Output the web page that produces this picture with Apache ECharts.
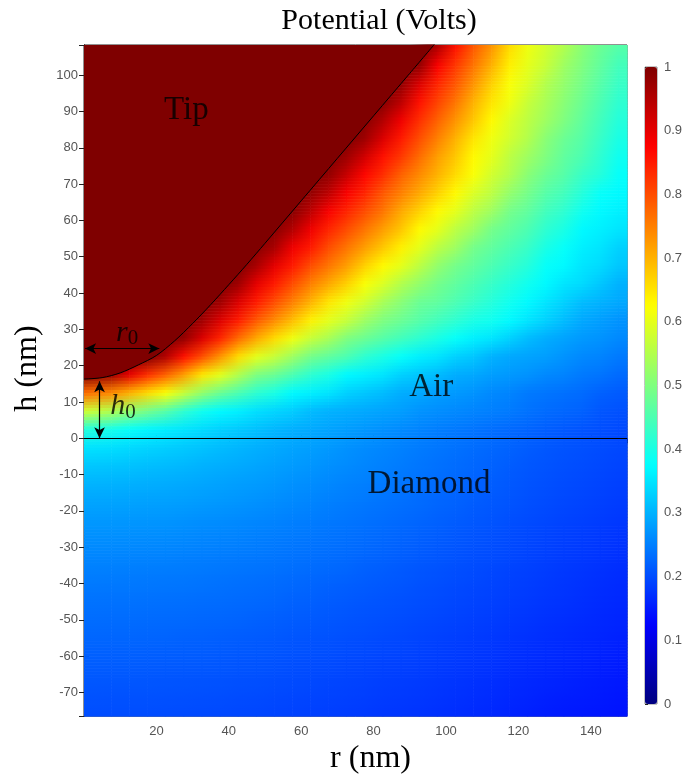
<!DOCTYPE html>
<html>
<head>
<meta charset="utf-8">
<script src="https://cdn.jsdelivr.net/npm/echarts@6/dist/echarts.min.js"></script>
<style>
  html, body { margin: 0; padding: 0; background: #ffffff; }
  #chart { width: 691px; height: 780px; }
</style>
</head>
<body>
<div id="chart"></div>
<script>
// Radial sample positions (nm)
const rCenters = [2.5, 7.5, 12.5, 17.5, 22.5, 27.5, 32.5, 37.5, 42.5, 47.5,
                  52.5, 57.5, 62.5, 67.5, 72.5, 77.5, 82.5, 87.5, 92.5, 97.5,
                  102.5, 107.5, 112.5, 117.5, 122.5, 127.5, 132.5, 137.5, 142.5, 147.5];

// Sample heights in the air gap (nm), top to bottom
const airHeights = [107.5, 102.5, 97.5, 92.5, 87.5, 82.5, 77.5, 72.5, 67.5, 62.5, 57.5,
                    52.5, 47.5, 42.5, 37.5, 32.5, 27.5, 22.5, 17.5, 12.5, 7.5, 2.5];

// Potential (V) in the air gap, one row per height, r increasing
const airPotential = [
  [1,1,1,1,1,1,1,1,1,1,1,1,1,1,1,1,1,1,1,0.96,0.86,0.79,0.73,0.66,0.61,0.58,0.55,0.51,0.48,0.46],
  [1,1,1,1,1,1,1,1,1,1,1,1,1,1,1,1,1,1,0.98,0.88,0.82,0.76,0.70,0.64,0.60,0.57,0.53,0.50,0.47,0.44],
  [1,1,1,1,1,1,1,1,1,1,1,1,1,1,1,1,1,0.98,0.91,0.84,0.79,0.73,0.67,0.62,0.59,0.55,0.52,0.49,0.46,0.43],
  [1,1,1,1,1,1,1,1,1,1,1,1,1,1,1,1,0.99,0.94,0.86,0.81,0.76,0.70,0.65,0.61,0.57,0.54,0.51,0.48,0.45,0.42],
  [1,1,1,1,1,1,1,1,1,1,1,1,1,1,1,0.99,0.95,0.89,0.83,0.78,0.73,0.68,0.63,0.59,0.56,0.53,0.50,0.47,0.44,0.41],
  [1,1,1,1,1,1,1,1,1,1,1,1,1,1,1,0.97,0.91,0.85,0.80,0.75,0.70,0.65,0.61,0.58,0.55,0.51,0.48,0.46,0.43,0.40],
  [1,1,1,1,1,1,1,1,1,1,1,1,1,1,0.97,0.92,0.86,0.82,0.77,0.72,0.68,0.63,0.60,0.56,0.53,0.50,0.47,0.45,0.42,0.39],
  [1,1,1,1,1,1,1,1,1,1,1,1,1,0.98,0.93,0.87,0.83,0.78,0.74,0.70,0.66,0.62,0.58,0.55,0.51,0.48,0.46,0.43,0.41,0.38],
  [1,1,1,1,1,1,1,1,1,1,1,1,0.98,0.94,0.88,0.84,0.79,0.75,0.71,0.67,0.63,0.59,0.56,0.52,0.49,0.46,0.44,0.41,0.38,0.37],
  [1,1,1,1,1,1,1,1,1,1,1,0.99,0.94,0.88,0.84,0.80,0.76,0.71,0.67,0.63,0.60,0.56,0.53,0.49,0.47,0.44,0.42,0.39,0.37,0.36],
  [1,1,1,1,1,1,1,1,1,1,0.99,0.95,0.89,0.84,0.80,0.76,0.72,0.68,0.63,0.60,0.56,0.53,0.49,0.47,0.45,0.42,0.40,0.37,0.36,0.35],
  [1,1,1,1,1,1,1,1,1,0.99,0.96,0.89,0.85,0.80,0.76,0.72,0.68,0.64,0.60,0.56,0.53,0.49,0.47,0.45,0.43,0.40,0.38,0.36,0.35,0.33],
  [1,1,1,1,1,1,1,1,1,0.96,0.90,0.85,0.80,0.76,0.72,0.67,0.63,0.60,0.56,0.52,0.49,0.47,0.45,0.43,0.41,0.38,0.37,0.35,0.34,0.32],
  [1,1,1,1,1,1,1,1,0.97,0.90,0.85,0.80,0.75,0.71,0.67,0.62,0.59,0.55,0.52,0.49,0.47,0.45,0.43,0.41,0.39,0.37,0.35,0.34,0.32,0.30],
  [1,1,1,1,1,1,1,0.97,0.91,0.85,0.80,0.75,0.70,0.65,0.61,0.58,0.54,0.51,0.48,0.47,0.45,0.43,0.41,0.39,0.37,0.35,0.33,0.31,0.30,0.29],
  [1,1,1,1,1,1,0.97,0.91,0.85,0.79,0.74,0.69,0.64,0.60,0.57,0.53,0.50,0.48,0.46,0.44,0.42,0.40,0.39,0.37,0.35,0.33,0.31,0.29,0.28,0.27],
  [1,1,1,1,1,0.98,0.91,0.84,0.77,0.71,0.66,0.61,0.57,0.54,0.50,0.48,0.46,0.44,0.42,0.40,0.38,0.36,0.35,0.33,0.31,0.295,0.285,0.275,0.27,0.26],
  [1,1,1,1,0.95,0.86,0.80,0.73,0.66,0.60,0.57,0.53,0.49,0.47,0.45,0.42,0.40,0.38,0.36,0.35,0.33,0.32,0.30,0.29,0.285,0.28,0.27,0.26,0.255,0.245],
  [1,0.97,0.90,0.83,0.78,0.72,0.65,0.60,0.55,0.50,0.48,0.45,0.42,0.40,0.37,0.36,0.35,0.33,0.32,0.31,0.295,0.29,0.28,0.275,0.27,0.26,0.255,0.245,0.24,0.23],
  [0.77,0.74,0.70,0.66,0.62,0.57,0.52,0.48,0.45,0.42,0.40,0.37,0.36,0.35,0.33,0.32,0.31,0.295,0.29,0.28,0.275,0.27,0.26,0.255,0.245,0.24,0.235,0.23,0.22,0.215],
  [0.58,0.55,0.52,0.49,0.46,0.42,0.39,0.37,0.36,0.345,0.335,0.325,0.31,0.30,0.295,0.29,0.285,0.28,0.27,0.265,0.26,0.255,0.25,0.245,0.237,0.23,0.225,0.22,0.21,0.205],
  [0.41,0.395,0.38,0.367,0.358,0.35,0.34,0.33,0.322,0.313,0.304,0.297,0.291,0.285,0.279,0.273,0.267,0.261,0.255,0.249,0.244,0.239,0.233,0.228,0.223,0.218,0.212,0.207,0.202,0.197]
];

// Sample heights inside the diamond (nm), top to bottom
const diamondHeights = [-2.5, -7.5, -12.5, -17.5, -22.5, -27.5, -32.5, -37.5,
                        -42.5, -47.5, -52.5, -57.5, -62.5, -67.5, -72.5, -77.5];

// Potential (V) inside the diamond, one row per height, r increasing
const diamondPotential = [
  [0.349,0.344,0.339,0.333,0.328,0.322,0.316,0.31,0.304,0.298,0.292,0.286,0.281,0.275,0.269,0.263,0.258,0.252,0.246,0.241,0.236,0.231,0.226,0.221,0.216,0.211,0.207,0.204,0.2,0.196],
  [0.321,0.318,0.315,0.312,0.309,0.305,0.3,0.296,0.292,0.287,0.282,0.277,0.272,0.267,0.262,0.256,0.251,0.246,0.241,0.236,0.231,0.226,0.221,0.216,0.211,0.207,0.203,0.2,0.196,0.192],
  [0.302,0.3,0.298,0.296,0.294,0.291,0.288,0.284,0.28,0.277,0.273,0.268,0.264,0.259,0.254,0.25,0.245,0.24,0.235,0.23,0.226,0.221,0.217,0.212,0.207,0.203,0.199,0.196,0.192,0.188],
  [0.287,0.286,0.285,0.283,0.282,0.28,0.277,0.274,0.271,0.268,0.264,0.26,0.256,0.251,0.247,0.243,0.238,0.234,0.23,0.225,0.221,0.216,0.212,0.208,0.203,0.199,0.195,0.192,0.188,0.184],
  [0.275,0.274,0.273,0.272,0.271,0.269,0.266,0.264,0.261,0.258,0.255,0.251,0.248,0.244,0.24,0.236,0.232,0.228,0.224,0.22,0.216,0.212,0.208,0.203,0.199,0.195,0.191,0.188,0.184,0.18],
  [0.266,0.265,0.264,0.263,0.262,0.26,0.257,0.255,0.253,0.25,0.247,0.244,0.241,0.237,0.234,0.23,0.226,0.223,0.219,0.215,0.211,0.207,0.203,0.199,0.195,0.191,0.187,0.184,0.18,0.176],
  [0.257,0.256,0.255,0.254,0.253,0.251,0.249,0.247,0.245,0.243,0.24,0.237,0.234,0.231,0.228,0.224,0.221,0.217,0.213,0.21,0.206,0.202,0.199,0.195,0.191,0.187,0.183,0.18,0.176,0.172],
  [0.249,0.248,0.247,0.246,0.245,0.244,0.242,0.24,0.238,0.236,0.234,0.231,0.228,0.225,0.222,0.218,0.215,0.212,0.208,0.205,0.201,0.198,0.194,0.19,0.187,0.183,0.179,0.176,0.172,0.168],
  [0.241,0.24,0.24,0.239,0.238,0.237,0.235,0.233,0.231,0.229,0.227,0.224,0.221,0.218,0.215,0.212,0.209,0.206,0.203,0.2,0.196,0.193,0.19,0.186,0.183,0.179,0.176,0.172,0.168,0.165],
  [0.234,0.233,0.233,0.232,0.231,0.23,0.228,0.227,0.225,0.223,0.221,0.218,0.216,0.213,0.21,0.207,0.205,0.202,0.199,0.196,0.192,0.189,0.186,0.182,0.179,0.175,0.172,0.169,0.165,0.162],
  [0.228,0.227,0.227,0.226,0.225,0.224,0.222,0.221,0.219,0.217,0.215,0.212,0.21,0.208,0.205,0.203,0.2,0.197,0.194,0.191,0.188,0.185,0.182,0.178,0.175,0.171,0.168,0.165,0.162,0.159],
  [0.222,0.221,0.221,0.22,0.219,0.218,0.217,0.215,0.213,0.212,0.21,0.207,0.205,0.203,0.2,0.198,0.195,0.193,0.19,0.187,0.184,0.181,0.178,0.174,0.171,0.168,0.165,0.162,0.159,0.156],
  [0.216,0.215,0.215,0.214,0.213,0.212,0.211,0.21,0.208,0.207,0.205,0.202,0.2,0.198,0.195,0.193,0.19,0.188,0.186,0.183,0.18,0.177,0.174,0.17,0.167,0.164,0.161,0.158,0.155,0.152],
  [0.21,0.209,0.209,0.209,0.208,0.207,0.206,0.205,0.203,0.202,0.2,0.198,0.196,0.193,0.191,0.189,0.186,0.184,0.182,0.179,0.176,0.173,0.17,0.166,0.163,0.16,0.157,0.155,0.152,0.149],
  [0.205,0.204,0.204,0.204,0.203,0.202,0.201,0.2,0.198,0.197,0.195,0.193,0.191,0.189,0.187,0.185,0.182,0.18,0.178,0.175,0.172,0.169,0.166,0.162,0.159,0.156,0.153,0.151,0.149,0.146],
  [0.2,0.199,0.199,0.199,0.198,0.197,0.196,0.195,0.194,0.193,0.191,0.189,0.187,0.185,0.183,0.181,0.178,0.176,0.174,0.171,0.168,0.165,0.162,0.158,0.155,0.152,0.149,0.147,0.145,0.143]
];

// Tip outline: radius (nm) and height (nm) of the conductor surface
const tipR = [0, 5, 10, 15, 20, 25, 30, 35, 40, 45, 50, 60, 70, 80, 90, 97];
const tipH = [16.3, 16.7, 18.0, 20.2, 22.8, 26.8, 31.6, 36.8, 42.3, 47.9, 53.7, 65.4, 77.1, 88.8, 100.5, 108.7];

// Tip geometry parameters shown with arrows (nm)
const r0 = 20.8;        // apex radius
const r0LevelH = 24.7;  // height at which r0 is marked
const h0 = 15.7;        // tip–sample gap
const h0MarkR = 4.3;    // radius at which h0 is marked

// Region names and their anchor positions (nm)
const regionNames = ['Tip', 'Air', 'Diamond'];
const regionR = [28.3, 95.9, 95.3];
const regionH = [90.4, 14.0, -12.6];

// Jet colour ramp, evenly spaced over 0..1 V
const jetColors = ['#00007f', '#0000ff', '#007fff', '#00ffff', '#7fff7f',
                   '#ffff00', '#ff7f00', '#ff0000', '#7f0000'];

// Plot extent (nm)
const rMin = 0, rMax = 150, hMin = -76.5, hMax = 108.3;

// ---- sample table for the field ----
const heights = airHeights.concat(diamondHeights);
const potential = airPotential.concat(diamondPotential);
const nCols = rCenters.length, nRows = heights.length;
const samples = [];
heights.forEach((h, i) => rCenters.forEach((r, j) => samples.push([r, h, potential[i][j]])));

const tipLine = tipR.map((r, i) => [r, tipH[i]]);
const regionData = regionNames.map((n, i) => ({ name: n, value: [regionR[i], regionH[i]] }));

const serif = 'Liberation Serif';
const sans = 'Liberation Sans';
const tickGray = '#555555';
const SHADE_STRIPS = 6;

// Each sample paints the patch between itself and its right / lower
// neighbours, shaded from the colours the visualMap gives those samples.
function renderPatch(params, api) {
  const idx = params.dataIndexInside;
  const i = Math.floor(idx / nCols), j = idx % nCols;
  const i2 = Math.min(i + 1, nRows - 1), j2 = Math.min(j + 1, nCols - 1);
  const rL = j === 0 ? rMin : rCenters[j];
  const rR = j === nCols - 1 ? rMax : rCenters[j2];
  const hT = i === 0 ? hMax : heights[i];
  const hB = i === nRows - 1 ? hMin : heights[i2];
  const cTL = api.visual('color', idx);
  const cTR = api.visual('color', i * nCols + j2);
  const cBL = api.visual('color', i2 * nCols + j);
  const cBR = api.visual('color', i2 * nCols + j2);
  const pTL = api.coord([rL, hT]);
  const pBR = api.coord([rR, hB]);
  const cs = params.coordSys;
  const children = [];
  for (let s = 0; s < SHADE_STRIPS; s++) {
    const t = (s + 0.5) / SHADE_STRIPS;
    const y0 = pTL[1] + (pBR[1] - pTL[1]) * s / SHADE_STRIPS;
    const y1 = pTL[1] + (pBR[1] - pTL[1]) * (s + 1) / SHADE_STRIPS;
    const top = Math.max(y0, cs.y), bot = Math.min(y1, cs.y + cs.height);
    if (bot <= top) continue;
    const cl = echarts.color.lerp(t, [cTL, cBL]);
    const cr = echarts.color.lerp(t, [cTR, cBR]);
    children.push({
      type: 'rect',
      shape: { x: pTL[0], y: top, width: pBR[0] - pTL[0] + 0.6, height: bot - top + 0.6 },
      style: { fill: { type: 'linear', x: 0, y: 0, x2: 1, y2: 0,
                       colorStops: [{ offset: 0, color: cl }, { offset: 1, color: cr }] } }
    });
  }
  return { type: 'group', children: children };
}

const chart = echarts.init(document.getElementById('chart'), null, { renderer: 'canvas' });

chart.setOption({
  animation: false,
  backgroundColor: '#ffffff',
  title: {
    text: 'Potential (Volts)',
    left: 374, top: 1, textAlign: 'center',
    textStyle: { fontFamily: serif, fontSize: 30, fontWeight: 'normal', color: '#000' }
  },
  grid: [
    { left: 84, right: 64, top: 45, bottom: 63, show: true, borderColor: '#222', borderWidth: 1, backgroundColor: 'transparent' },
    { left: 645, top: 67, width: 12, height: 637, show: true, borderColor: '#888', borderWidth: 1, backgroundColor: 'transparent' }
  ],
  xAxis: [
    {
      gridIndex: 0, type: 'value', min: rMin, max: rMax, interval: 20, position: 'bottom',
      name: 'r (nm)', nameLocation: 'middle', nameGap: 24,
      nameTextStyle: { fontFamily: serif, fontSize: 32, color: '#000', padding: [0, 0, 0, 30] },
      axisLine: { show: true, lineStyle: { color: '#222', width: 1 } },
      axisTick: { show: true, inside: true, length: 5, lineStyle: { color: '#222' } },
      axisLabel: { showMinLabel: false, showMaxLabel: false, color: tickGray, fontFamily: sans, fontSize: 13, margin: 9 },
      splitLine: { show: false }
    },
    {
      gridIndex: 0, type: 'value', min: rMin, max: rMax, interval: 20, position: 'top',
      axisLine: { show: true, lineStyle: { color: '#222', width: 1 } },
      axisTick: { show: true, inside: true, length: 5, lineStyle: { color: '#222' } },
      axisLabel: { show: false }, splitLine: { show: false }
    },
    { gridIndex: 1, type: 'value', min: 0, max: 1, show: false }
  ],
  yAxis: [
    {
      gridIndex: 0, type: 'value', min: hMin, max: hMax, splitNumber: 18, minInterval: 10, maxInterval: 10,
      position: 'left',
      name: 'h (nm)', nameLocation: 'middle', nameGap: 40, nameRotate: 90,
      nameTextStyle: { fontFamily: serif, fontSize: 32, color: '#000', padding: [0, 0, 0, 24] },
      axisLine: { show: true, lineStyle: { color: '#222', width: 1 } },
      axisTick: { show: true, inside: true, length: 5, lineStyle: { color: '#222' } },
      axisLabel: { showMinLabel: false, showMaxLabel: false, color: tickGray, fontFamily: sans, fontSize: 13, margin: 6 },
      splitLine: { show: false }
    },
    {
      gridIndex: 0, type: 'value', min: hMin, max: hMax, splitNumber: 18, minInterval: 10, maxInterval: 10,
      position: 'right',
      axisLine: { show: true, lineStyle: { color: '#222', width: 1 } },
      axisTick: { show: true, inside: true, length: 5, lineStyle: { color: '#222' } },
      axisLabel: { show: false }, splitLine: { show: false }
    },
    {
      gridIndex: 1, type: 'value', min: 0, max: 1, interval: 0.1, position: 'right',
      axisLine: { show: false },
      axisTick: { show: false },
      axisLabel: { color: tickGray, fontFamily: sans, fontSize: 13, margin: 7,
                   formatter: v => String(Math.round(v * 10) / 10) },
      splitLine: { show: false }
    },
    {
      gridIndex: 1, type: 'value', min: 0, max: 1, interval: 0.1, position: 'left',
      axisLine: { show: false },
      axisTick: { show: true, inside: true, length: 3, lineStyle: { color: '#222' } },
      axisLabel: { show: false }, splitLine: { show: false }
    }
  ],
  visualMap: {
    type: 'continuous', min: 0, max: 1, dimension: 2, seriesIndex: 0,
    show: true, calculable: false, hoverLink: false,
    left: 645, top: 67, itemWidth: 12, itemHeight: 637, padding: 0,
    inRange: { color: jetColors }
  },
  series: [
    {
      type: 'custom', name: 'potential', xAxisIndex: 0, yAxisIndex: 0,
      renderItem: renderPatch, data: samples, encode: { x: 0, y: 1 }, silent: true
    },
    {
      type: 'line', name: 'tip', xAxisIndex: 0, yAxisIndex: 0,
      data: tipLine, symbol: 'none', smooth: 0.3, clip: true, silent: true,
      lineStyle: { color: '#000', width: 1 },
      areaStyle: { origin: 'end', color: '#7f0000', opacity: 1 },
      z: 3,
      markLine: {
        silent: true, animation: false,
        symbol: ['arrow', 'arrow'], symbolSize: [8, 11],
        label: { show: false },
        lineStyle: { color: '#000', width: 1.2, type: 'solid' },
        data: [
          [{ coord: [0.3, r0LevelH] }, { coord: [r0, r0LevelH] }],
          [{ coord: [h0MarkR, 0] }, { coord: [h0MarkR, h0] }]
        ]
      }
    },
    {
      type: 'scatter', name: 'regions', xAxisIndex: 0, yAxisIndex: 0,
      data: regionData, symbolSize: 0, silent: true, z: 5,
      label: {
        show: true, position: 'inside', formatter: p => p.name,
        fontFamily: serif, fontSize: 33, color: '#000'
      },
      // air / diamond interface
      markLine: {
        silent: true, animation: false, symbol: 'none',
        label: { show: false },
        lineStyle: { color: '#000', width: 1, type: 'solid' },
        data: [{ yAxis: 0 }]
      }
    },
    {
      type: 'scatter', name: 'params', xAxisIndex: 0, yAxisIndex: 0,
      data: [
        { value: [r0 / 2 + 1.5, r0LevelH + 4.3], label: { formatter: '{i|r}{s|0}' } },
        { value: [h0MarkR + 6.5, h0 / 2 + 1.0], label: { formatter: '{i|h}{s|0}' } }
      ],
      symbolSize: 0, silent: true, z: 5,
      label: {
        show: true, position: 'inside', color: '#000',
        rich: {
          i: { fontFamily: serif, fontStyle: 'italic', fontSize: 30, color: '#000' },
          s: { fontFamily: serif, fontSize: 21, color: '#000', padding: [12, 0, 0, 0] }
        }
      }
    }
  ]
});
</script>
</body>
</html>
